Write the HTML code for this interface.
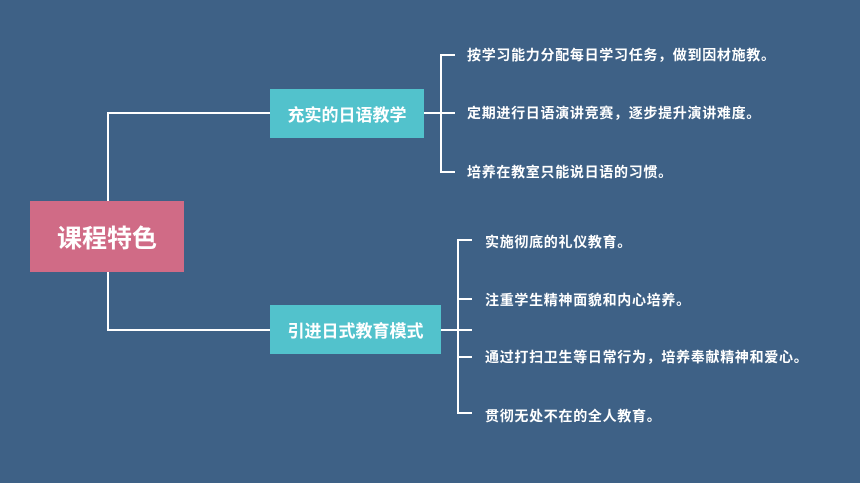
<!DOCTYPE html>
<html><head><meta charset="utf-8"><style>
body{margin:0;width:860px;height:483px;background:#3e6186;overflow:hidden;font-family:"Liberation Sans","Noto Sans CJK SC",sans-serif;}
.box{position:absolute;display:flex;align-items:center;justify-content:center;color:#fff;font-weight:bold;}
.t{position:absolute;color:#fff;font-weight:bold;font-size:14px;letter-spacing:0.7px;white-space:nowrap;line-height:16px;}
</style></head><body>
<svg width="860" height="483" style="position:absolute;left:0;top:0" fill="none" stroke="#fff" stroke-width="2">
<polyline points="270,113 108,113 108,201"/>
<polyline points="108,272 108,330 270,330"/>
<line x1="424" y1="113" x2="455" y2="113"/>
<polyline points="455,55 441,55 441,172 455,172"/>
<line x1="441" y1="330" x2="472" y2="330"/>
<polyline points="472,240 458,240 458,413 472,413"/>
<line x1="458" y1="299" x2="472" y2="299"/>
<line x1="458" y1="357" x2="472" y2="357"/>
</svg>
<div class="box" style="left:30px;top:201px;width:154px;height:71px;background:#d06b86;font-size:25px">课程特色</div>
<div class="box" style="left:270px;top:89px;width:154px;height:49px;background:#52c2cc;font-size:17px">充实的日语教学</div>
<div class="box" style="left:270px;top:305px;width:171px;height:49px;background:#52c2cc;font-size:17px">引进日式教育模式</div>
<div class="t" style="left:467px;top:47px">按学习能力分配每日学习任务，做到因材施教。</div>
<div class="t" style="left:467px;top:105px">定期进行日语演讲竞赛，逐步提升演讲难度。</div>
<div class="t" style="left:467px;top:164px">培养在教室只能说日语的习惯。</div>
<div class="t" style="left:485px;top:234px">实施彻底的礼仪教育。</div>
<div class="t" style="left:485px;top:292px">注重学生精神面貌和内心培养。</div>
<div class="t" style="left:485px;top:349px">通过打扫卫生等日常行为，培养奉献精神和爱心。</div>
<div class="t" style="left:485px;top:408px">贯彻无处不在的全人教育。</div>
</body></html>
